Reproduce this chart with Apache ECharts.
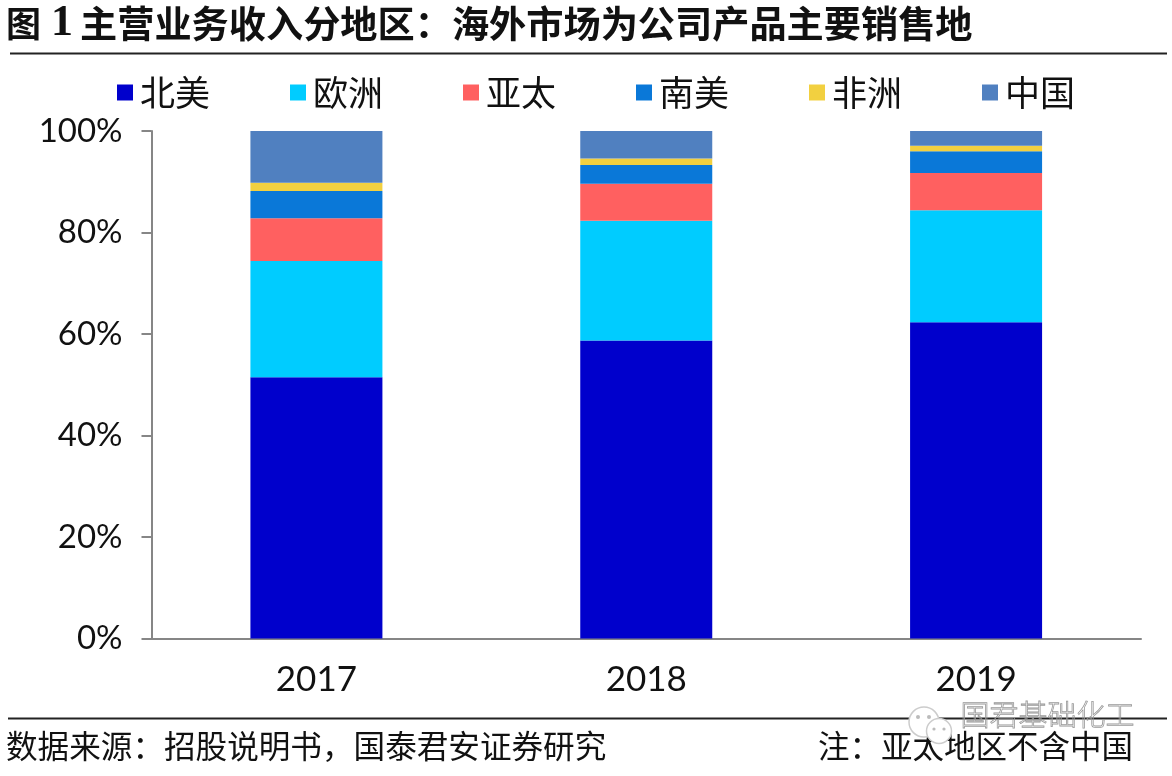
<!DOCTYPE html>
<html><head><meta charset="utf-8">
<style>html,body{margin:0;padding:0;background:#fff}#c{width:1172px;height:776px}</style>
<script src="https://cdn.jsdelivr.net/npm/echarts@6/dist/echarts.min.js"></script>
</head><body><div id="c"></div>
<script>
const years = ['2017','2018','2019'];
const northAmerica = [51.5,58.7,62.3];
const europe = [22.9,23.6,22.1];
const asiaPacific = [8.4,7.3,7.3];
const southAmerica = [5.4,3.7,4.3];
const africa = [1.6,1.3,1.1];
const china = [10.2,5.4,2.9];
const names = ['北美','欧洲','亚太','南美','非洲','中国'];
const colors = ['#0000CC','#00CCFF','#FF6060','#0A78D8','#F2D040','#5080C0'];
const values = [northAmerica,europe,asiaPacific,southAmerica,africa,china];
const cjk = '"Noto Sans CJK SC"';
const latin = 'Lato, "Noto Sans CJK SC"';
const chart = echarts.init(document.getElementById('c'),null,{renderer:'canvas'});
chart.setOption({
  animation:false,
  backgroundColor:'#fff',
  color:colors,
  grid:{left:151.5,right:31,top:131,bottom:137.5,containLabel:false},
  legend:{
    left:112,top:70,itemWidth:16,itemHeight:16,itemGap:80,icon:'rect',
    data:names,
    itemStyle:{borderWidth:0},
    textStyle:{fontFamily:cjk,fontSize:35,color:'#111',padding:[0,0,0,2]}
  },
  xAxis:{type:'category',data:years,
    axisTick:{show:false},
    axisLine:{lineStyle:{color:'#868686',width:2}},
    axisLabel:{fontFamily:latin,fontSize:35,color:'#111',margin:24}},
  yAxis:{type:'value',min:0,max:100,interval:20,
    splitLine:{show:false},
    axisLine:{show:true,lineStyle:{color:'#868686',width:2}},
    axisTick:{show:true,length:10,lineStyle:{color:'#868686',width:2}},
    axisLabel:{fontFamily:latin,fontSize:33,color:'#111',margin:29,formatter:'{value}%'}},
  series:names.map((n,i)=>({name:n,type:'bar',stack:'t',barWidth:132,data:values[i],
    itemStyle:{color:colors[i]}})),
  graphic:[
    {type:'text',left:6,top:6,style:{text:'图',fontFamily:cjk,fontWeight:'bold',fontSize:35,fill:'#111'}},
    {type:'text',left:51,top:2,style:{text:'1',fontFamily:'"Liberation Serif"',fontWeight:'bold',fontSize:44,fill:'#111'}},
    {type:'text',left:80,top:5,style:{text:'主营业务收入分地区：海外市场为公司产品主要销售地',fontFamily:cjk,fontWeight:'bold',fontSize:37.2,fill:'#111'}},
    {type:'rect',shape:{x:10,y:52.5,width:1157,height:2},style:{fill:'#222'}},
    {type:'rect',shape:{x:8,y:717.5,width:1159,height:2},style:{fill:'#222'}},
    {type:'text',left:6,top:730,style:{text:'数据来源：招股说明书，国泰君安证券研究',fontFamily:cjk,fontSize:31.6,fill:'#111'}},
    {type:'text',left:818,top:730,style:{text:'注：亚太地区不含中国',fontFamily:cjk,fontSize:31.5,fill:'#111'}},
    {type:'circle',shape:{cx:924,cy:722,r:15},style:{fill:'#fff',stroke:'#ccc',lineWidth:1.5}},
    {type:'circle',shape:{cx:918,cy:717,r:2},style:{fill:'#bbb'}},
    {type:'circle',shape:{cx:929,cy:717,r:2},style:{fill:'#bbb'}},
    {type:'circle',shape:{cx:939,cy:731,r:12.5},style:{fill:'#fff',stroke:'#ccc',lineWidth:1.5}},
    {type:'circle',shape:{cx:934,cy:729,r:1.6},style:{fill:'#bbb'}},
    {type:'circle',shape:{cx:944,cy:729,r:1.6},style:{fill:'#bbb'}},
    {type:'text',left:960,top:700,style:{text:'国君基础化工',fontFamily:cjk,fontSize:29,fontWeight:300,fill:'rgba(255,255,255,0)',stroke:'#999',lineWidth:0.8}}
  ]
});
</script></body></html>
